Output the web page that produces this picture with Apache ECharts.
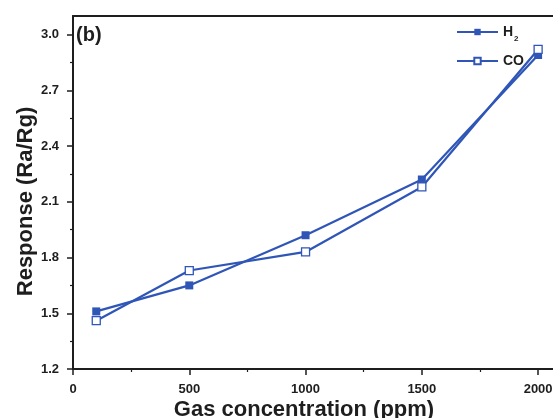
<!DOCTYPE html>
<html>
<head>
<meta charset="utf-8">
<script src="https://cdn.jsdelivr.net/npm/echarts@6/dist/echarts.min.js"></script>
<style>
  html, body { margin: 0; padding: 0; background: #fff; }
  #chart { width: 553px; height: 418px; }
</style>
</head>
<body>
<div id="chart"></div>
<script>
// Gas concentration (ppm) and sensor response (Ra/Rg)
const concentrations = [100, 500, 1000, 1500, 2000];
const h2Response = [1.51, 1.65, 1.92, 2.22, 2.89];
const coResponse = [1.46, 1.73, 1.83, 2.18, 2.92];

// Axis ticks
const xTicks = [0, 500, 1000, 1500, 2000];
const xMinorTicks = [250, 750, 1250, 1750];
const yTicks = [1.2, 1.5, 1.8, 2.1, 2.4, 2.7, 3.0];
const yMinorTicks = [1.35, 1.65, 1.95, 2.25, 2.55, 2.85];

const FONT = '"Liberation Sans", Arial, sans-serif';
const INK = '#1e1e1e';
const BLUE = '#2f56b7';

const xRange = { min: 0, max: 2064 };
const yRange = { min: 1.2, max: 3.1 };

const pairs = (xs, ys) => xs.map((x, i) => [x, ys[i]]);

const chart = echarts.init(document.getElementById('chart'), null, { renderer: 'canvas' });

chart.setOption({
  animation: false,
  backgroundColor: '#fff',
  textStyle: { fontFamily: FONT },
  title: {
    text: '(b)',
    left: 73,
    top: 23,
    padding: [2, 3],
    textStyle: { fontFamily: FONT, fontSize: 20, fontWeight: 'bold', color: INK }
  },
  grid: { left: 73, right: 0, top: 16, bottom: 49, containLabel: false, outerBoundsMode: 'none' },
  legend: {
    orient: 'vertical',
    left: 456,
    top: 25,
    padding: 0,
    itemWidth: 41,
    itemHeight: 8,
    itemGap: 11,
    data: ['H2', 'CO'],
    formatter: name => name === 'H2' ? '{b|H}{s|2}' : '{b|CO}',
    textStyle: {
      color: INK,
      fontFamily: FONT,
      rich: {
        b: { fontSize: 14, fontWeight: 'bold', color: INK, fontFamily: FONT },
        s: { fontSize: 8, fontWeight: 'bold', color: INK, fontFamily: FONT, verticalAlign: 'bottom', padding: [0, 0, -4, 1] }
      }
    }
  },
  xAxis: [
    {
      type: 'value', position: 'bottom', ...xRange,
      name: 'Gas concentration (ppm)',
      nameLocation: 'middle',
      nameGap: 30,
      nameMoveOverlap: false,
      nameTextStyle: { fontFamily: FONT, fontSize: 22, fontWeight: 'bold', color: INK, padding: [0, 18, 0, 0] },
      axisLine: { show: true, lineStyle: { color: INK, width: 2 } },
      axisTick: { show: true, inside: false, length: 6, customValues: xTicks, lineStyle: { color: INK, width: 1.5 } },
      axisLabel: {
        show: true, customValues: xTicks, margin: 14,
        formatter: v => String(v),
        fontFamily: FONT, fontSize: 13, fontWeight: 'bold', color: INK
      },
      splitLine: { show: false }
    },
    {
      type: 'value', position: 'bottom', ...xRange,
      axisLine: { show: false },
      axisTick: { show: true, inside: false, length: 3, customValues: xMinorTicks, lineStyle: { color: INK, width: 1.2 } },
      axisLabel: { show: false },
      splitLine: { show: false }
    },
    {
      type: 'value', position: 'top', ...xRange,
      axisLine: { show: true, lineStyle: { color: INK, width: 2 } },
      axisTick: { show: false },
      axisLabel: { show: false },
      splitLine: { show: false }
    }
  ],
  yAxis: [
    {
      type: 'value', position: 'left', ...yRange,
      name: 'Response (Ra/Rg)',
      nameLocation: 'middle',
      nameGap: 36,
      nameMoveOverlap: false,
      nameTextStyle: { fontFamily: FONT, fontSize: 22, fontWeight: 'bold', color: INK, padding: [0, 18, 0, 0] },
      axisLine: { show: true, lineStyle: { color: INK, width: 2 } },
      axisTick: { show: true, inside: false, length: 6, customValues: yTicks, lineStyle: { color: INK, width: 1.5 } },
      axisLabel: {
        show: true, customValues: yTicks, margin: 14,
        formatter: v => v.toFixed(1),
        fontFamily: FONT, fontSize: 13, fontWeight: 'bold', color: INK
      },
      splitLine: { show: false }
    },
    {
      type: 'value', position: 'left', ...yRange,
      axisLine: { show: false },
      axisTick: { show: true, inside: false, length: 3, customValues: yMinorTicks, lineStyle: { color: INK, width: 1.2 } },
      axisLabel: { show: false },
      splitLine: { show: false }
    }
  ],
  series: [
    {
      name: 'H2',
      type: 'line',
      xAxisIndex: 0,
      yAxisIndex: 0,
      data: pairs(concentrations, h2Response),
      symbol: 'rect',
      symbolSize: 8,
      lineStyle: { color: BLUE, width: 2.2 },
      itemStyle: { color: BLUE, borderColor: BLUE, borderWidth: 0 }
    },
    {
      name: 'CO',
      type: 'line',
      xAxisIndex: 0,
      yAxisIndex: 0,
      data: pairs(concentrations, coResponse),
      symbol: 'rect',
      symbolSize: 8,
      lineStyle: { color: BLUE, width: 2.2 },
      itemStyle: { color: '#ffffff', borderColor: BLUE, borderWidth: 1.3 }
    }
  ]
});
</script>
</body>
</html>
